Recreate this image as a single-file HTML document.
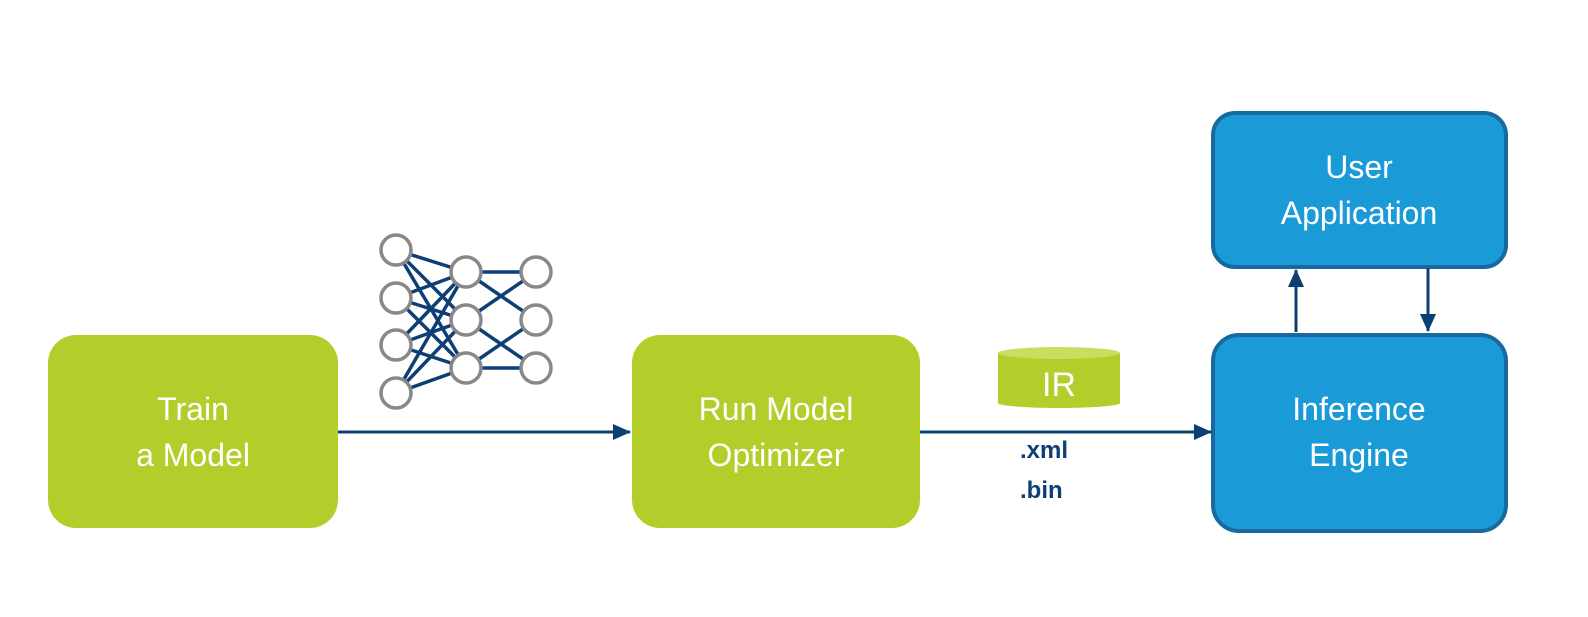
<!DOCTYPE html>
<html><head><style>
html,body{margin:0;padding:0;background:#fff;overflow:hidden;width:1588px;height:617px;}
svg{display:block;}
svg text{font-family:"Liberation Sans",sans-serif;}
</style></head><body>
<svg width="1588" height="617" viewBox="0 0 1588 617" xmlns="http://www.w3.org/2000/svg">
<defs>
<marker id="b" markerWidth="18" markerHeight="16" refX="17" refY="8" orient="auto" markerUnits="userSpaceOnUse"><path d="M0,0 L18,8 L0,16 z" fill="#0d3f75"/></marker></defs>
<rect x="48" y="335" width="290" height="193" rx="28" fill="#b3cd2b"/>
<text x="193" y="420" font-size="32" fill="#fff" text-anchor="middle">Train</text>
<text x="193" y="466" font-size="32" fill="#fff" text-anchor="middle">a Model</text>
<rect x="632" y="335" width="288" height="193" rx="28" fill="#b3cd2b"/>
<text x="776" y="420" font-size="32" fill="#fff" text-anchor="middle">Run Model</text>
<text x="776" y="466" font-size="32" fill="#fff" text-anchor="middle">Optimizer</text>
<rect x="1213" y="335" width="293" height="196" rx="26" fill="#1a9ad7" stroke="#17699e" stroke-width="4"/>
<text x="1359" y="420" font-size="32" fill="#fff" text-anchor="middle">Inference</text>
<text x="1359" y="466" font-size="32" fill="#fff" text-anchor="middle">Engine</text>
<rect x="1213" y="113" width="293" height="154" rx="22" fill="#1a9ad7" stroke="#17699e" stroke-width="4"/>
<text x="1359" y="178" font-size="32" fill="#fff" text-anchor="middle">User</text>
<text x="1359" y="224" font-size="32" fill="#fff" text-anchor="middle">Application</text>
<line x1="338" y1="432" x2="630" y2="432" stroke="#0d3f75" stroke-width="3" marker-end="url(#b)"/>
<line x1="920" y1="432" x2="1211" y2="432" stroke="#0d3f75" stroke-width="3" marker-end="url(#b)"/>
<line x1="1296" y1="332" x2="1296" y2="270" stroke="#0d3f75" stroke-width="3" marker-end="url(#b)"/>
<line x1="1428" y1="268" x2="1428" y2="331" stroke="#0d3f75" stroke-width="3" marker-end="url(#b)"/>
<rect x="998" y="353" width="122" height="50" fill="#b3cd2b"/>
<ellipse cx="1059" cy="353" rx="61" ry="6" fill="#c9dd5f"/>
<ellipse cx="1059" cy="403" rx="61" ry="5" fill="#b3cd2b"/>
<text x="1059" y="396" font-size="34" fill="#fff" text-anchor="middle">IR</text>
<text x="1020" y="458" font-size="24" font-weight="bold" fill="#0d3f75">.xml</text>
<text x="1020" y="498" font-size="24" font-weight="bold" fill="#0d3f75">.bin</text>
<g stroke="#0d3f75" stroke-width="3.5">
<line x1="396" y1="250" x2="466" y2="272"/><line x1="396" y1="250" x2="466" y2="320"/><line x1="396" y1="250" x2="466" y2="368"/>
<line x1="396" y1="298" x2="466" y2="272"/><line x1="396" y1="298" x2="466" y2="320"/><line x1="396" y1="298" x2="466" y2="368"/>
<line x1="396" y1="345" x2="466" y2="272"/><line x1="396" y1="345" x2="466" y2="320"/><line x1="396" y1="345" x2="466" y2="368"/>
<line x1="396" y1="393" x2="466" y2="272"/><line x1="396" y1="393" x2="466" y2="320"/><line x1="396" y1="393" x2="466" y2="368"/>
<line x1="466" y1="272" x2="536" y2="272"/><line x1="466" y1="272" x2="536" y2="320"/>
<line x1="466" y1="320" x2="536" y2="272"/><line x1="466" y1="320" x2="536" y2="368"/>
<line x1="466" y1="368" x2="536" y2="320"/><line x1="466" y1="368" x2="536" y2="368"/>
</g>
<g fill="#fff" stroke="#888" stroke-width="3.5">
<circle cx="396" cy="250" r="15"/><circle cx="396" cy="298" r="15"/><circle cx="396" cy="345" r="15"/><circle cx="396" cy="393" r="15"/>
<circle cx="466" cy="272" r="15"/><circle cx="466" cy="320" r="15"/><circle cx="466" cy="368" r="15"/>
<circle cx="536" cy="272" r="15"/><circle cx="536" cy="320" r="15"/><circle cx="536" cy="368" r="15"/>
</g>
</svg>
</body></html>
